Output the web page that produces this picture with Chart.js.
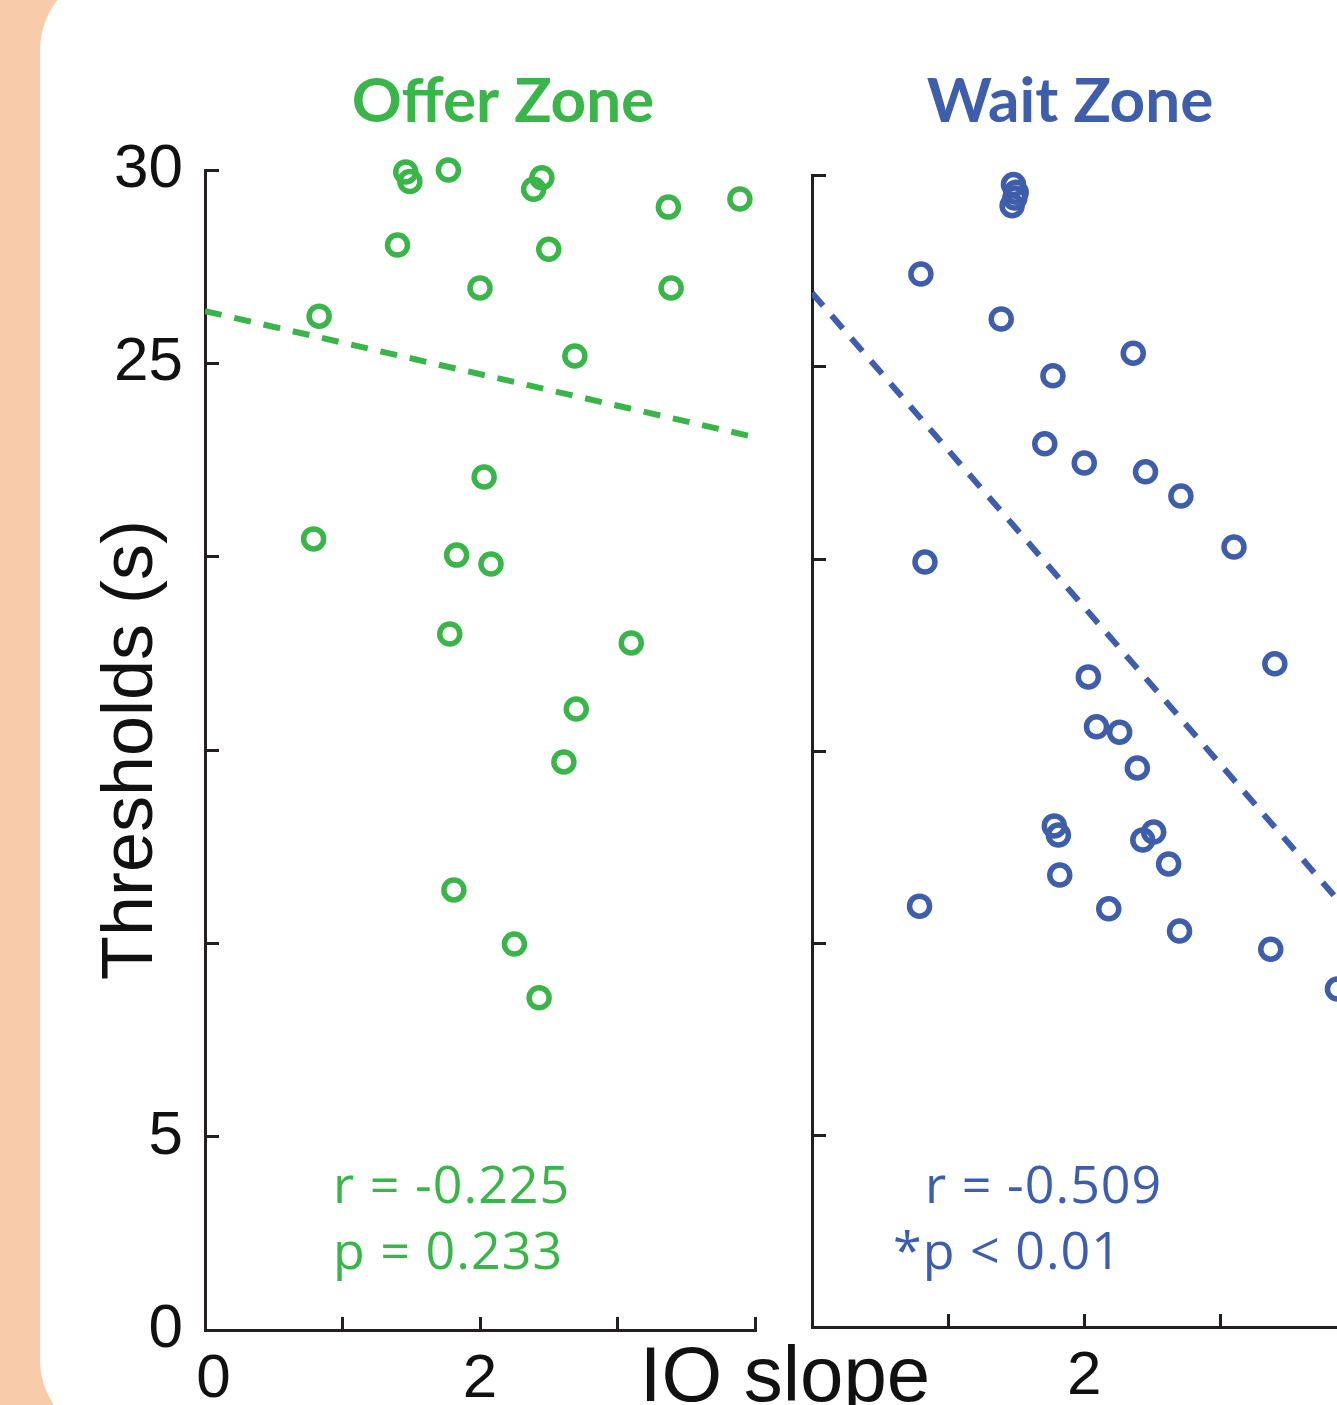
<!DOCTYPE html>
<html>
<head>
<meta charset="utf-8">
<script src="https://cdn.jsdelivr.net/npm/chart.js@4.4.0/dist/chart.umd.min.js"></script>
<style>
    html, body { margin: 0; padding: 0; background: #f8cbab; overflow: hidden; }
    #stage { position: relative; width: 1337px; height: 1405px; overflow: hidden; }
    #card { position: absolute; left: 40px; top: -30px; width: 1400px; height: 1470px; background: #fff; border-radius: 80px; }
    .panel { position: absolute; top: 0; }
    #offer-chart { left: 0; }
    #wait-chart { left: 772px; }
</style>
</head>
<body>
<div id="stage">
    <div id="card"></div>
    <canvas id="offer-chart" class="panel" width="1000" height="1405"></canvas>
    <canvas id="wait-chart" class="panel" width="600" height="1405"></canvas>
</div>
<script>
// Offer Zone: IO slope vs threshold (s)
const offerX = [1.46, 1.49, 1.77, 2.45, 2.39, 3.37, 3.89, 1.40, 2.50, 2.00, 3.39, 0.83, 2.69,
                2.03, 0.79, 1.83, 2.08, 1.78, 3.10, 2.70, 2.61, 1.81, 2.25, 2.43];
const offerY = [29.95, 29.70, 30.00, 29.80, 29.50, 29.04, 29.25, 28.06, 27.95, 26.95, 26.95, 26.22, 25.19,
                22.06, 20.46, 20.04, 19.81, 18.00, 17.77, 16.06, 14.69, 11.38, 9.98, 8.59];
const offerFitX = [0, 4];
const offerFitY = [26.35, 23.09];

// Wait Zone
const waitX = [1.48, 1.50, 1.49, 1.47, 0.80, 1.39, 2.36, 1.77, 1.71, 2.00, 2.45, 2.71, 0.83, 3.10,
               3.40, 2.03, 2.09, 2.26, 2.39, 1.78, 1.81, 2.51, 2.43, 2.62, 1.82, 0.79, 2.18, 2.70,
               3.37, 3.86];
const waitY = [29.75, 29.55, 29.40, 29.20, 27.42, 26.25, 25.36, 24.77, 23.00, 22.50, 22.27, 21.64, 19.92, 20.31,
               17.27, 16.93, 15.63, 15.49, 14.56, 13.05, 12.81, 12.89, 12.68, 12.06, 11.77, 10.96, 10.89, 10.31,
               9.84, 8.80];
const waitFitX = [0, 4];
const waitFitY = [26.93, 10.56];

const yTickLabels = [0, 5, 25, 30];
const offerXTickLabels = [0, 2];
const waitXTickLabels = [2, 4];

const GREEN = '#3ab54a';
const BLUE = '#3e5eab';
const INK = '#231f20';

const toPoints = (xs, ys) => xs.map((x, i) => ({ x: x, y: ys[i] }));

// plain text drawn on the canvas (titles, stats, shared x label)
const panelText = {
    id: 'panelText',
    afterDraw(chart, args, opts) {
        const ctx = chart.ctx;
        (opts.items || []).forEach(it => {
            ctx.save();
            ctx.font = it.font;
            ctx.fillStyle = it.color;
            ctx.textAlign = it.align || 'left';
            ctx.textBaseline = 'alphabetic';
            if (it.spacing) ctx.letterSpacing = it.spacing;
            ctx.fillText(it.text, it.x, it.y);
            ctx.restore();
        });
    }
};

function makeScales(xLabels, showY, yWidth, xHeight) {
    return {
        x: {
            type: 'linear', min: 0, max: 4,
            afterFit: s => { s.height = xHeight; s.paddingLeft = 0; s.paddingRight = 0; },
            border: { display: true, color: INK, width: 3 },
            grid: { drawOnChartArea: false, drawTicks: true, tickLength: -13, color: INK, lineWidth: 3 },
            ticks: {
                stepSize: 1, autoSkip: false, maxRotation: 0, padding: 26,
                color: '#111', font: { family: '"Liberation Sans", Arial, sans-serif', size: 62 },
                // the 0 label sits a little right of its tick in the original
                callback: v => xLabels.includes(v) ? (v === 0 ? ' 0' : String(v)) : ''
            }
        },
        y: {
            type: 'linear', min: 0, max: 30,
            afterFit: s => { s.width = yWidth; s.paddingTop = 0; s.paddingBottom = 0; },
            border: { display: true, color: INK, width: 3 },
            grid: { drawOnChartArea: false, drawTicks: true, tickLength: -14, color: INK, lineWidth: 3 },
            title: {
                display: showY, text: 'Thresholds (s)', color: '#111',
                font: { family: '"Liberation Sans", Arial, sans-serif', size: 72 },
                padding: { top: 89, bottom: 0 }
            },
            ticks: {
                stepSize: 5, autoSkip: false, padding: 36,
                color: '#111', font: { family: '"Liberation Sans", Arial, sans-serif', size: 62 },
                callback: v => (showY && yTickLabels.includes(v)) ? String(v) : ''
            }
        }
    };
}

function makeDatasets(xs, ys, fx, fy, color) {
    return [
        {
            data: toPoints(xs, ys), borderColor: color, backgroundColor: 'transparent',
            pointStyle: 'circle', pointRadius: 10, pointBorderWidth: 5.5,
            pointBackgroundColor: 'transparent', pointBorderColor: color, showLine: false, clip: false
        },
        {
            data: toPoints(fx, fy), borderColor: color, borderWidth: 6, borderDash: [17, 13],
            pointRadius: 0, showLine: true, fill: false
        }
    ];
}

const statFont = '52px "Open Sans", sans-serif';
const titleFont = 'bold 62px Lato, "Open Sans", sans-serif';

new Chart(document.getElementById('offer-chart'), {
    type: 'scatter',
    data: { datasets: makeDatasets(offerX, offerY, offerFitX, offerFitY, GREEN) },
    options: {
        responsive: false, animation: false, events: [],
        layout: { padding: { top: 170, right: 245, bottom: 0, left: 0 } },
        scales: makeScales(offerXTickLabels, true, 205, 75),
        plugins: {
            legend: { display: false }, tooltip: { enabled: false },
            panelText: {
                items: [
                    { text: 'Offer Zone', x: 503, y: 122, font: titleFont, color: GREEN, align: 'center' },
                    { text: 'r = -0.225', x: 333, y: 1203, font: statFont, color: GREEN, spacing: '1px' },
                    { text: 'p = 0.233', x: 333, y: 1269, font: statFont, color: GREEN, spacing: '1px' },
                    { text: 'IO slope', x: 785, y: 1401, font: '78px "Liberation Sans", Arial, sans-serif', color: '#111', align: 'center' }
                ]
            }
        }
    },
    plugins: [panelText]
});

new Chart(document.getElementById('wait-chart'), {
    type: 'scatter',
    data: { datasets: makeDatasets(waitX, waitY, waitFitX, waitFitY, BLUE) },
    options: {
        responsive: false, animation: false, events: [],
        layout: { padding: { top: 175, right: 12, bottom: 0, left: 0 } },
        scales: makeScales(waitXTickLabels, false, 40, 78),
        plugins: {
            legend: { display: false }, tooltip: { enabled: false },
            panelText: {
                items: [
                    { text: 'Wait Zone', x: 298, y: 122, font: titleFont, color: BLUE, align: 'center' },
                    { text: 'r = -0.509', x: 153, y: 1203, font: statFont, color: BLUE, spacing: '1px' },
                    { text: '*p < 0.01', x: 121, y: 1269, font: statFont, color: BLUE, spacing: '1px' }
                ]
            }
        }
    },
    plugins: [panelText]
});
</script>
</body>
</html>
